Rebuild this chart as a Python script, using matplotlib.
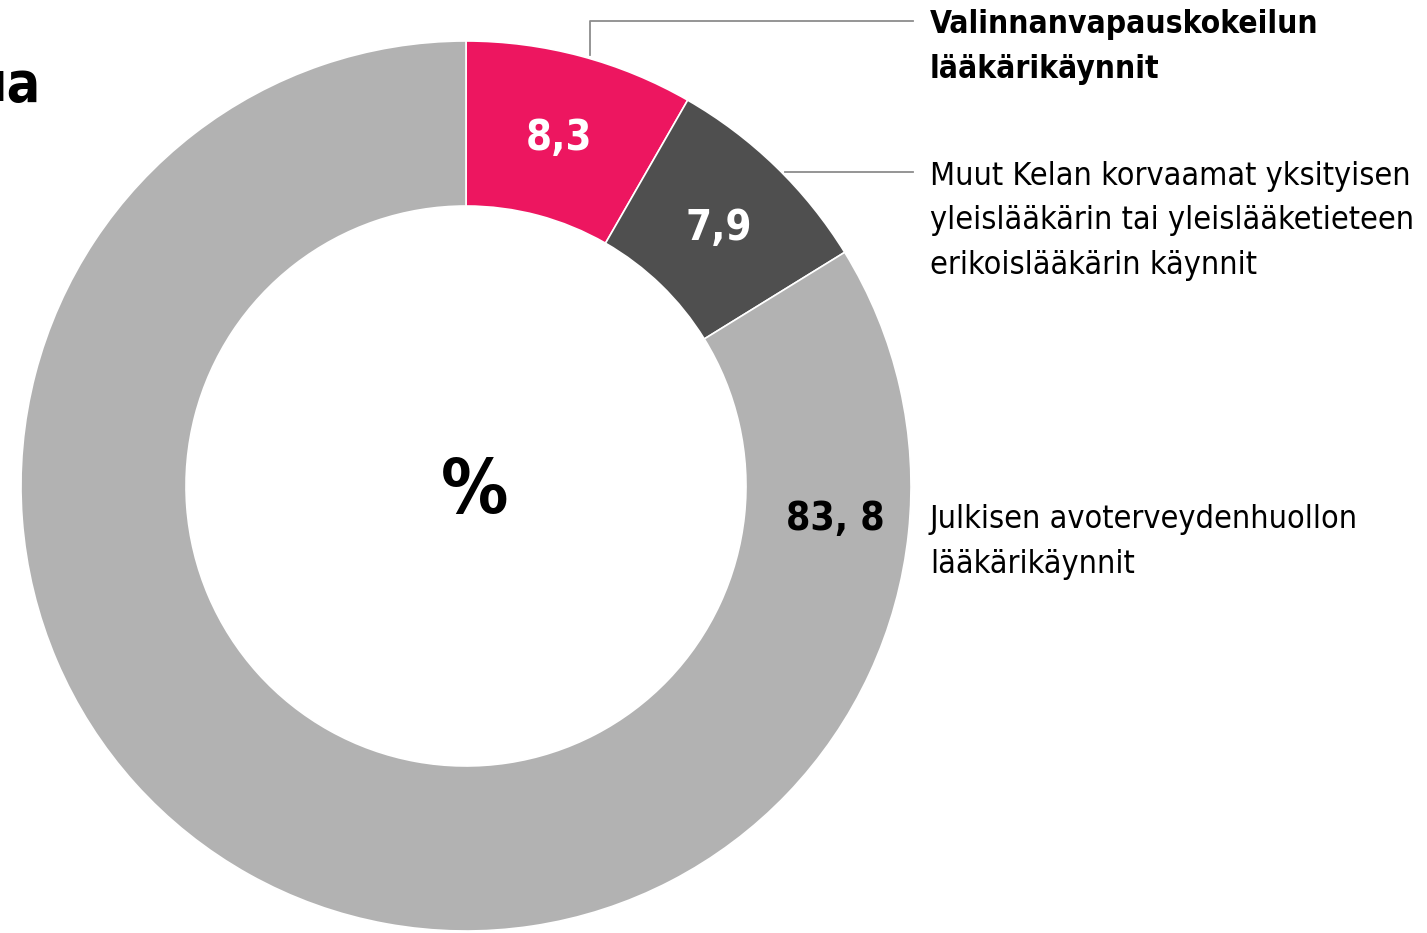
import numpy as np
import matplotlib.pyplot as plt

# data
categories = ["Valinnanvapauskokeilun\nlääkärikäynnit",
              "Muut Kelan korvaamat yksityisen\nyleislääkärin tai yleislääketieteen\nerikoislääkärin käynnit",
              "Julkisen avoterveydenhuollon\nlääkärikäynnit"]
values = [8.3, 7.9, 83.8]
value_labels = ["8,3", "7,9", "83, 8"]
colors = ["#ED1660", "#4F4F4F", "#B2B2B2"]
label_colors = ["white", "white", "black"]

W, H = 1427, 933
fig = plt.figure(figsize=(W / 100, H / 100), dpi=100)
ax = fig.add_axes([0, 0, 1, 1])

cx, cy = 466, H - 486
R = 445
ring = 165

wedges, _ = ax.pie(values, colors=colors, startangle=90, counterclock=False,
                   radius=R, center=(cx, cy),
                   wedgeprops=dict(width=ring, edgecolor="white", linewidth=1.2))
ax.set_xlim(0, W)
ax.set_ylim(0, H)
ax.set_aspect("equal")
ax.axis("off")

fam = "DejaVu Sans"
st = "condensed"

# value labels inside the ring
rmid = R - ring / 2
for i, w in enumerate(wedges[:2]):
    a = np.deg2rad((w.theta1 + w.theta2) / 2)
    ax.text(cx + rmid * np.cos(a), cy + rmid * np.sin(a) - 2, value_labels[i],
            ha="center", va="center", color=label_colors[i], fontsize=30,
            fontweight="bold", family=fam, fontstretch=st)
ax.text(835, H - 519, value_labels[2], ha="center", va="center",
        color=label_colors[2], fontsize=28, fontweight="bold", family=fam,
        fontstretch=st)

ax.text(475, H - 493, "%", ha="center", va="center", fontsize=54,
        fontweight="bold", family=fam, fontstretch=st)

# title, cut at the left edge like in the source
ax.text(40, H - 86, "ua", ha="right", va="center", fontsize=40,
        fontweight="bold", family=fam, fontstretch=st)

# legend texts and leader lines
ax.text(930, H - 47, categories[0], ha="left", va="center", fontsize=22.8,
        fontweight="bold", family=fam, fontstretch=st, linespacing=1.55)
ax.text(930, H - 221, categories[1], ha="left", va="center", fontsize=23.2,
        family=fam, fontstretch=st, linespacing=1.55)
ax.text(930, H - 542, categories[2], ha="left", va="center", fontsize=23.2,
        family=fam, fontstretch=st, linespacing=1.55)

ax.plot([590, 590, 913], [H - 55, H - 21, H - 21], color="#8c8c8c", lw=1.3)
ax.plot([785, 913], [H - 172, H - 172], color="#8c8c8c", lw=1.3)

fig.savefig("out.png", dpi=100, facecolor="white")
